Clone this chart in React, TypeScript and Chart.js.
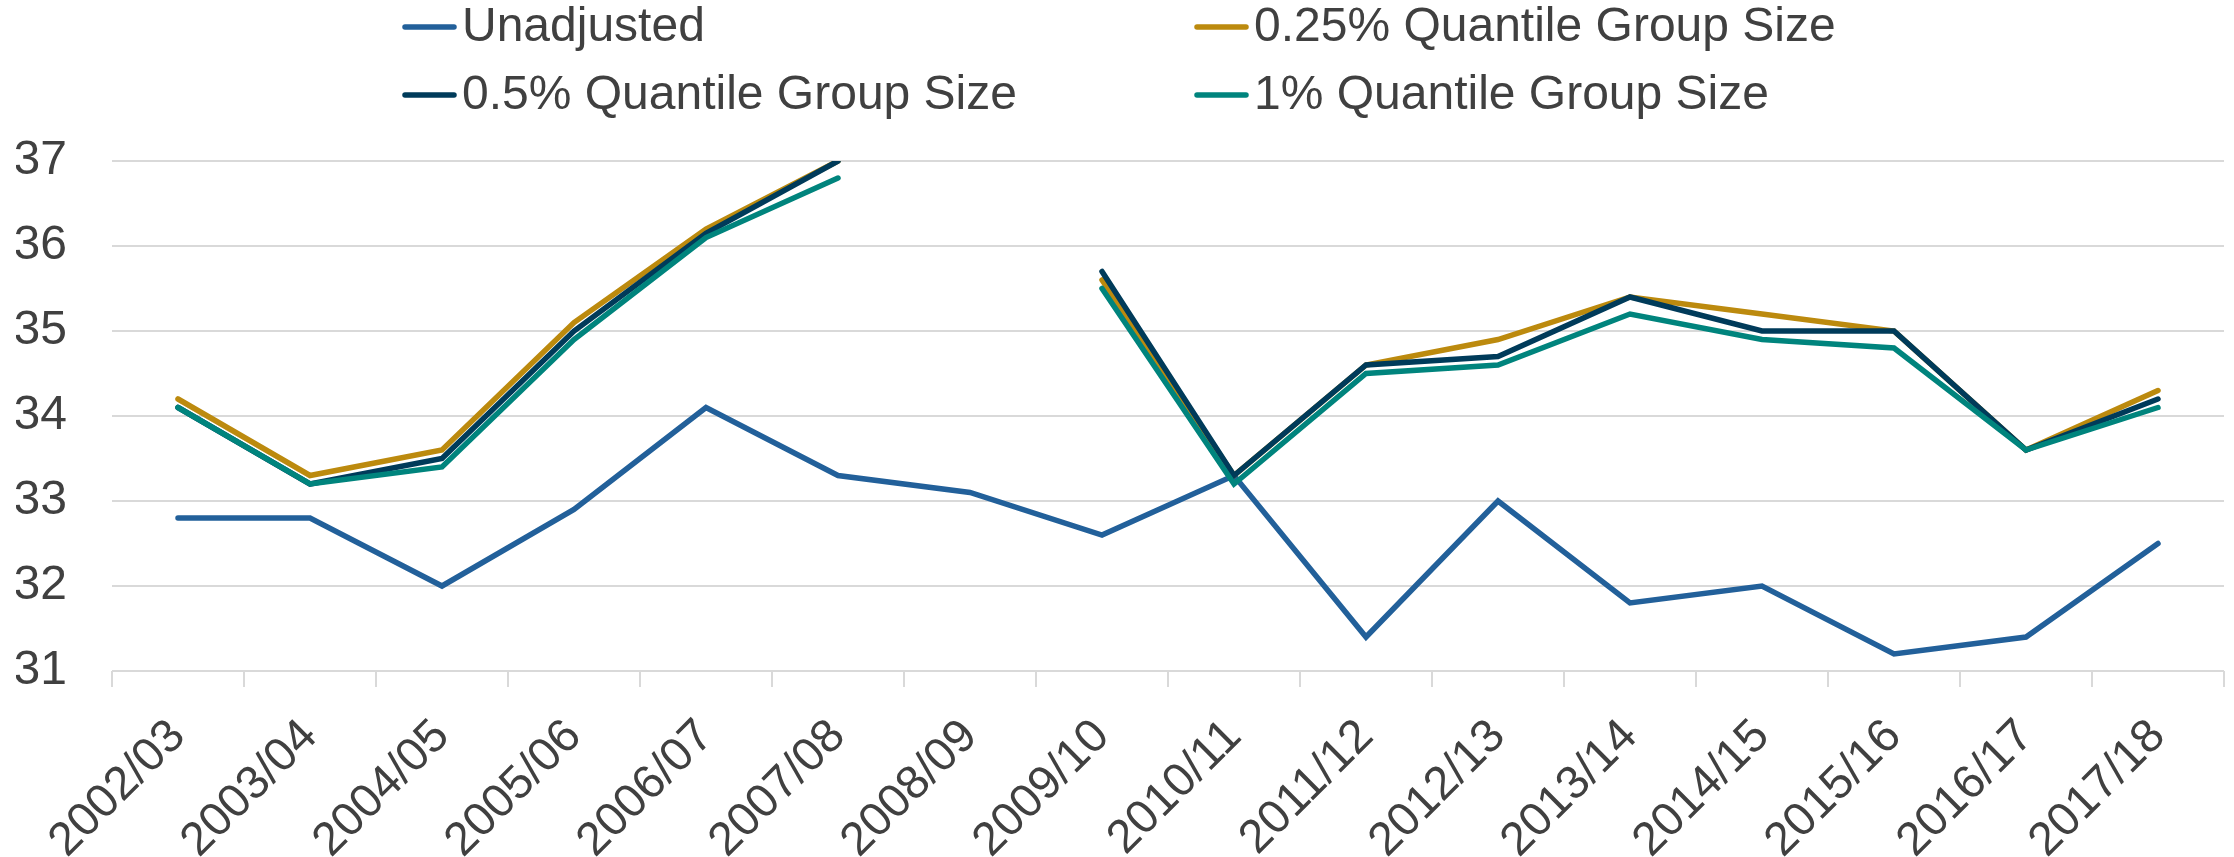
import React, { useEffect, useRef } from "react";
import { Chart, registerables } from "chart.js";

Chart.register(...registerables);

const categories = [
  "2002/03", "2003/04", "2004/05", "2005/06", "2006/07", "2007/08", "2008/09", "2009/10",
  "2010/11", "2011/12", "2012/13", "2013/14", "2014/15", "2015/16", "2016/17", "2017/18",
];

const unadjusted = [32.8, 32.8, 32.0, 32.9, 34.1, 33.3, 33.1, 32.6, 33.3, 31.4, 33.0, 31.8, 32.0, 31.2, 31.4, 32.5];
const q025 = [34.2, 33.3, 33.6, 35.1, 36.2, 37.0, null, 35.6, 33.3, 34.6, 34.9, 35.4, 35.2, 35.0, 33.6, 34.3];
const q05 = [34.1, 33.2, 33.5, 35.0, 36.15, 37.0, null, 35.7, 33.3, 34.6, 34.7, 35.4, 35.0, 35.0, 33.6, 34.2];
const q1 = [34.1, 33.2, 33.4, 34.9, 36.1, 36.8, null, 35.5, 33.2, 34.5, 34.6, 35.2, 34.9, 34.8, 33.6, 34.1];

const seriesNames = [
  "Unadjusted",
  "0.25% Quantile Group Size",
  "0.5% Quantile Group Size",
  "1% Quantile Group Size",
];
const seriesColors = ["#22609A", "#BC8A0E", "#003B5A", "#00847D"];

const yMin = 31;
const yMax = 37;

const FONT = "'Liberation Sans', Arial, sans-serif";
const TEXT = "#404040";
const GRID = "#d9d9d9";

const legendPlugin = {
  id: "gridLegend",
  afterDraw(chart: any) {
    const ctx = chart.ctx;
    const items = [
      { i: 0, x: 402, y: 27 },
      { i: 1, x: 1194, y: 27 },
      { i: 2, x: 402, y: 95 },
      { i: 3, x: 1194, y: 95 },
    ];
    ctx.save();
    ctx.font = `48px ${FONT}`;
    ctx.textBaseline = "middle";
    ctx.textAlign = "left";
    for (const it of items) {
      ctx.strokeStyle = seriesColors[it.i];
      ctx.lineWidth = 5.5;
      ctx.lineCap = "round";
      ctx.beginPath();
      ctx.moveTo(it.x + 3, it.y);
      ctx.lineTo(it.x + 52, it.y);
      ctx.stroke();
      ctx.fillStyle = TEXT;
      ctx.fillText(seriesNames[it.i], it.x + 60, it.y + 1);
    }
    ctx.restore();
  },
};

export default function App() {
  const ref = useRef<HTMLCanvasElement | null>(null);

  useEffect(() => {
    if (!ref.current) return;
    const mk = (idx: number, data: (number | null)[], order: number) => ({
      label: seriesNames[idx],
      data,
      borderColor: seriesColors[idx],
      backgroundColor: seriesColors[idx],
      borderWidth: 5.5,
      pointRadius: 0,
      pointHoverRadius: 0,
      tension: 0,
      spanGaps: false,
      borderCapStyle: "round" as const,
      order,
    });
    const chart = new Chart(ref.current, {
      type: "line",
      data: {
        labels: categories,
        datasets: [mk(0, unadjusted, 3), mk(1, q025, 2), mk(2, q05, 1), mk(3, q1, 0)],
      },
      options: {
        animation: false,
        responsive: true,
        maintainAspectRatio: false,
        devicePixelRatio: 1,
        layout: { padding: { top: 161, left: 16, right: 10, bottom: 0 } },
        plugins: {
          legend: { display: false },
          tooltip: { enabled: false },
          title: { display: false },
        },
        scales: {
          x: {
            type: "category",
            offset: true,
            grid: {
              offset: true,
              drawOnChartArea: false,
              drawTicks: true,
              tickLength: 16,
              tickColor: GRID,
              tickWidth: 2,
              color: GRID,
              lineWidth: 2,
            },
            border: { display: false },
            ticks: {
              autoSkip: false,
              minRotation: 45,
              maxRotation: 45,
              padding: 22,
              color: TEXT,
              font: { family: FONT, size: 47 },
            },
            afterFit: (scale: any) => {
              scale.height = 186;
            },
          },
          y: {
            min: yMin,
            max: yMax,
            grid: { color: GRID, lineWidth: 2, drawTicks: false },
            border: { display: false },
            ticks: {
              stepSize: 1,
              padding: 45,
              color: TEXT,
              font: { family: FONT, size: 48 },
            },
            afterFit: (scale: any) => {
              scale.width = 96;
            },
          },
        },
      },
      plugins: [legendPlugin],
    });
    return () => chart.destroy();
  }, []);

  return (
    <div style={{ position: "fixed", left: 0, top: 0, width: 2234, height: 857, background: "#fff" }}>
      <canvas ref={ref} />
    </div>
  );
}
